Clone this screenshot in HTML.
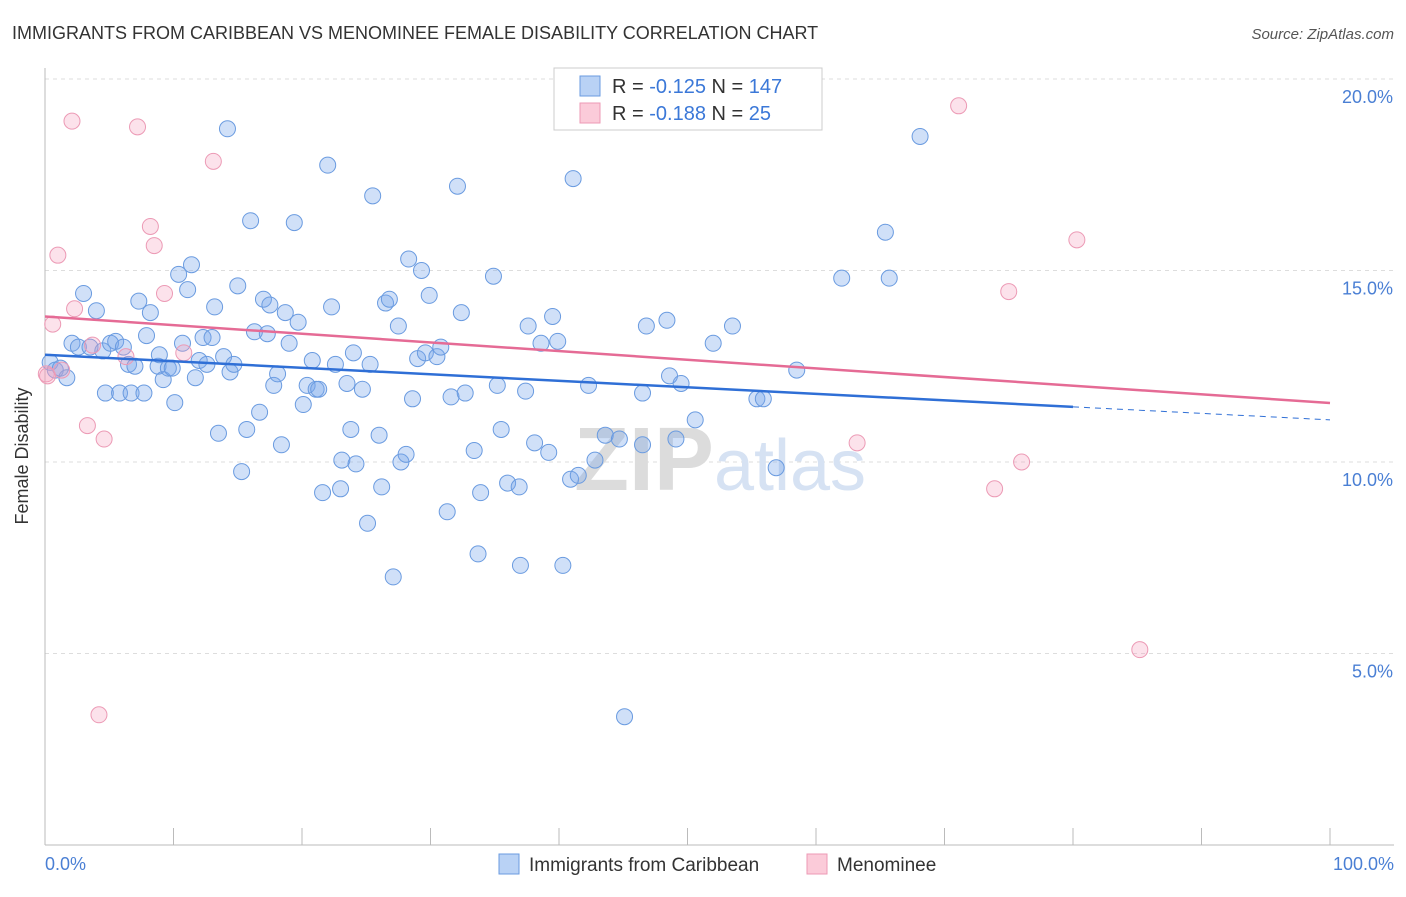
<!DOCTYPE html>
<html><head><meta charset="utf-8"><style>
body{margin:0;background:#fff;font-family:"Liberation Sans",sans-serif;}
svg text{font-family:"Liberation Sans",sans-serif;}
</style></head><body>
<svg width="1406" height="892" viewBox="0 0 1406 892">
<text x="12" y="39" font-size="18" fill="#333">IMMIGRANTS FROM CARIBBEAN VS MENOMINEE FEMALE DISABILITY CORRELATION CHART</text>
<text x="1394" y="39" font-size="15" fill="#555" text-anchor="end" font-style="italic">Source: ZipAtlas.com</text>
<g id="grid"></g>
<g id="axes"></g>
<text x="720" y="490" font-size="90" fill="#e4e4e4" text-anchor="middle" font-family="Liberation Serif"><tspan fill="#dcdcdc" font-weight="bold">ZIP</tspan><tspan fill="#d6e2f3" font-family="Liberation Sans" font-size="72">atlas</tspan></text>
<g id="pts"></g>
<g id="trends"></g>
<text x="28" y="456" font-size="18" fill="#333" text-anchor="middle" transform="rotate(-90 28 456)">Female Disability</text>
<text x="45" y="870" font-size="18" fill="#4a7fd4">0.0%</text>
<text x="1394" y="870" font-size="18" fill="#4a7fd4" text-anchor="end">100.0%</text>
<g>
<rect x="554" y="68" width="268" height="62" fill="#fff" stroke="#ccc"/>
<rect x="580" y="76" width="20" height="20" fill="#b9d2f5" stroke="#6a9be0"/>
<rect x="580" y="103" width="20" height="20" fill="#fbcbd9" stroke="#ec9ab5"/>
<text x="612" y="93" font-size="20" fill="#333">R = <tspan fill="#3b78d8">-0.125</tspan>   N = <tspan fill="#3b78d8">147</tspan></text>
<text x="612" y="120" font-size="20" fill="#333">R = <tspan fill="#3b78d8">-0.188</tspan>   N =  <tspan fill="#3b78d8"> 25</tspan></text>
</g>
<g>
<rect x="499" y="854" width="20" height="20" fill="#b9d2f5" stroke="#6a9be0"/>
<text x="529" y="871" font-size="19" fill="#333">Immigrants from Caribbean</text>
<rect x="807" y="854" width="20" height="20" fill="#fbcbd9" stroke="#ec9ab5"/>
<text x="837" y="871" font-size="19" fill="#333">Menominee</text>
</g>
</svg>
<script>
const blueX=[0.4,0.8,1.2,1.7,2.1,2.6,3.0,3.5,4.0,4.5,4.7,5.1,5.5,5.8,6.1,6.5,6.7,7.0,7.3,7.7,7.9,8.2,8.8,8.9,9.2,9.6,9.9,10.1,10.4,10.7,11.1,11.4,11.7,12.0,12.3,12.6,13.0,13.2,13.5,13.9,14.2,14.4,14.7,15.0,15.3,15.7,16.0,16.3,16.7,17.0,17.3,17.5,17.8,18.1,18.4,18.7,19.0,19.4,19.7,20.1,20.4,20.8,21.1,21.3,21.6,22.0,22.3,22.6,23.0,23.1,23.5,23.8,24.0,24.2,24.7,25.1,25.3,25.5,26.0,26.2,26.5,26.8,27.1,27.5,27.7,28.1,28.3,28.6,29.0,29.3,29.6,29.9,30.5,30.8,31.3,31.6,32.1,32.4,32.7,33.4,33.7,33.9,34.9,35.2,35.5,36.0,36.9,37.0,37.4,37.6,38.1,38.6,39.2,39.5,39.9,40.3,40.9,41.1,41.5,42.3,42.8,43.6,44.7,45.1,46.5,46.5,46.8,48.4,48.6,49.1,49.5,50.6,52.0,53.5,55.4,55.9,56.9,58.5,62.0,65.4,65.7,68.1];
const blueY=[12.6,12.4,12.45,12.2,13.1,13.0,14.4,13.0,13.95,12.9,11.8,13.1,13.15,11.8,13.0,12.55,11.8,12.5,14.2,11.8,13.3,13.9,12.5,12.8,12.15,12.45,12.45,11.55,14.9,13.1,14.5,15.15,12.2,12.65,13.25,12.55,13.25,14.05,10.75,12.75,18.7,12.35,12.55,14.6,9.75,10.85,16.3,13.4,11.3,14.25,13.35,14.1,12.0,12.3,10.45,13.9,13.1,16.25,13.65,11.5,12.0,12.65,11.9,11.9,9.2,17.75,14.05,12.55,9.3,10.05,12.05,10.85,12.85,9.95,11.9,8.4,12.55,16.95,10.7,9.35,14.15,14.25,7.0,13.55,10.0,10.2,15.3,11.65,12.7,15.0,12.85,14.35,12.75,13.0,8.7,11.7,17.2,13.9,11.8,10.3,7.6,9.2,14.85,12.0,10.85,9.45,9.35,7.3,11.85,13.55,10.5,13.1,10.25,13.8,13.15,7.3,9.55,17.4,9.65,12.0,10.05,10.7,10.6,3.35,11.8,10.45,13.55,13.7,12.25,10.6,12.05,11.1,13.1,13.55,11.65,11.65,9.85,12.4,14.8,16.0,14.8,18.5];
const pinkX=[0.1,0.2,0.6,1.0,1.3,2.1,2.3,3.3,3.7,4.2,4.6,6.3,7.2,8.2,8.5,9.3,10.8,13.1,63.2,71.1,73.9,75.0,76.0,80.3,85.2];
const pinkY=[12.3,12.25,13.6,15.4,12.4,18.9,14.0,10.95,13.05,3.4,10.6,12.75,18.75,16.15,15.65,14.4,12.85,17.85,10.5,19.3,9.3,14.45,10.0,15.8,5.1];
const yTicks=[5,10,15,20];
const yTickLabels=["5.0%","10.0%","15.0%","20.0%"];
const xTicks=[0,10,20,30,40,50,60,70,80,90,100];
const blueTrend=[12.8,11.44,11.1]; // y at x=0, 80, 100
const pinkTrend=[13.8,11.54]; // y at x=0,100
const NS="http://www.w3.org/2000/svg";
const sx=v=>45+v*12.85, sy=v=>845-v*38.3;
function mk(t,a,p){const e=document.createElementNS(NS,t);for(const k in a)e.setAttribute(k,a[k]);p.appendChild(e);return e;}
const grid=document.getElementById('grid'),axes=document.getElementById('axes'),pts=document.getElementById('pts'),tr=document.getElementById('trends');
yTicks.forEach((v,i)=>{
 const l=mk('line',{x1:45,x2:1394,y1:sy(v),y2:sy(v),stroke:'#ddd','stroke-dasharray':'4,4'},grid);
 
 
 const t=mk('text',{x:1393,y:sy(v)+24,'font-size':18,fill:'#4a7fd4','text-anchor':'end'},grid);
 t.textContent=yTickLabels[i];
 
 
});
mk('line',{x1:45,x2:45,y1:68,y2:845,stroke:'#bbb'},axes);
mk('line',{x1:45,x2:1394,y1:845,y2:845,stroke:'#bbb'},axes);
xTicks.forEach(v=>{const l=mk('line',{x1:sx(v),x2:sx(v),y1:828,y2:845,stroke:'#bbb'},axes);
 
 });
blueX.forEach((x,i)=>{const c=mk('circle',{cx:sx(x),cy:sy(blueY[i]),r:8,fill:'rgba(120,165,235,0.35)',stroke:'#6a9be0','stroke-width':1},pts);
 
 });
pinkX.forEach((x,i)=>{const c=mk('circle',{cx:sx(x),cy:sy(pinkY[i]),r:8,fill:'rgba(245,160,190,0.3)',stroke:'#ec9ab5','stroke-width':1},pts);
 
 });
let a=mk('line',{x1:sx(0),y1:sy(blueTrend[0]),x2:sx(80),y2:sy(blueTrend[1]),stroke:'#2f6fd6','stroke-width':2.5},tr);


a=mk('line',{x1:sx(80),y1:sy(blueTrend[1]),x2:sx(100),y2:sy(blueTrend[2]),stroke:'#2f6fd6','stroke-width':1,'stroke-dasharray':'6,5'},tr);


a=mk('line',{x1:sx(0),y1:sy(pinkTrend[0]),x2:sx(100),y2:sy(pinkTrend[1]),stroke:'#e56b95','stroke-width':2.5},tr);


</script>
</body></html>
